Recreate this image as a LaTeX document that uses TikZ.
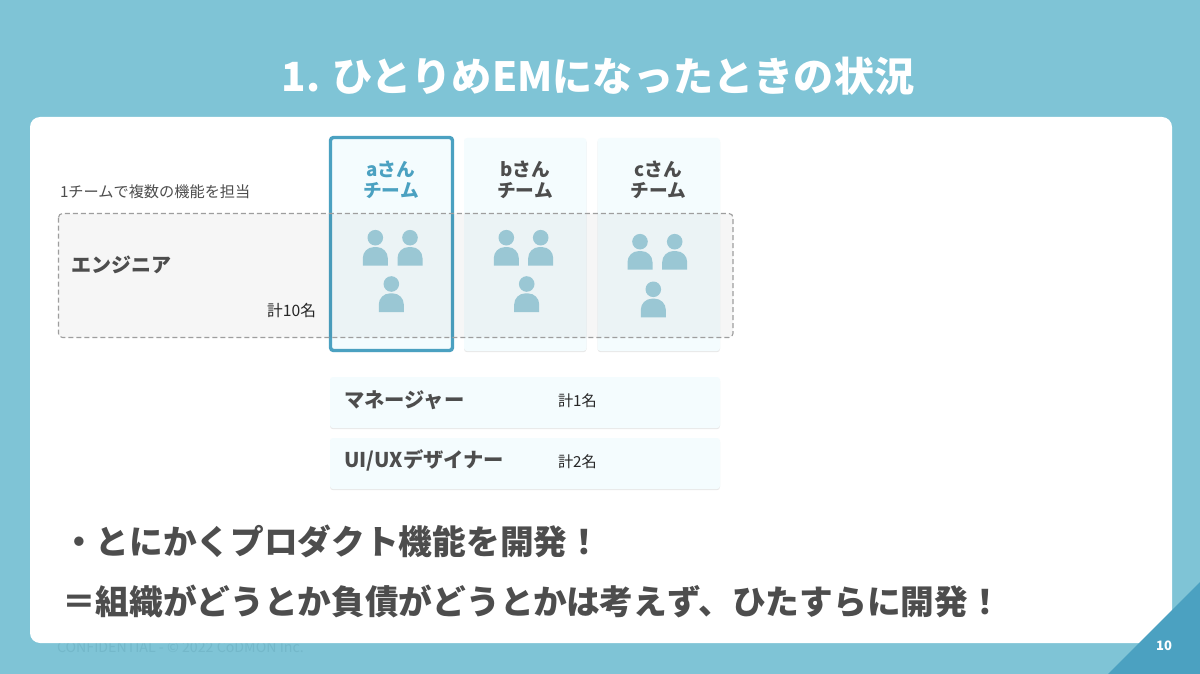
\documentclass[tikz,border=0pt]{standalone}
\usepackage{fontspec}
\setmainfont{Noto Sans CJK JP}
\usetikzlibrary{shadows}
\definecolor{bgblue}{HTML}{7FC4D6}
\definecolor{deepblue}{HTML}{4BA1C1}
\definecolor{cardfill}{HTML}{F4FCFE}
\definecolor{inkgray}{HTML}{4D4D4D}
\definecolor{persona}{HTML}{9AC7D4}
\definecolor{footgray}{HTML}{74B8CA}
\newcommand{\fs}[1]{\fontsize{#1}{#1}\selectfont}
\tikzset{
  card/.style={fill=cardfill,rounded corners=3pt,drop shadow={shadow xshift=0pt,shadow yshift=-1.2pt,opacity=.09,fill=black}},
  lbl/.style={inner sep=0pt,outer sep=0pt,text=inkgray},
  cardlabel/.style={lbl,align=center,font=\fs{18.7}\bfseries},
  rowlabel/.style={lbl,anchor=west,font=\fs{20.3}\bfseries},
  counttext/.style={lbl,anchor=west,font=\fs{15.2},text=black!85},
  bigline/.style={lbl,anchor=west,font=\fs{33.7}\bfseries},
  personicon/.pic={
    \fill[persona] (0,0) circle (7.8pt);
    \fill[persona] (-12.5,28) {[rounded corners=11pt] -- (-12.5,9.4) -- (12.5,9.4)} -- (12.5,28) -- cycle;
  }
}
\begin{document}
\begin{tikzpicture}[x=1pt,y=-1pt]
\useasboundingbox (0,0) rectangle (1200,674);
\fill[bgblue] (0,0) rectangle (1200,674);
\node[lbl,anchor=west,text=footgray,font=\fs{14.2}] (footer) at (57,647.5) {CONFIDENTIAL - © 2022 CoDMON Inc.};
\fill[white,rounded corners=10pt] (30,117) rectangle (1172,643);
\fill[deepblue] (1200,582) -- (1200,674) -- (1108,674) -- cycle;
\node[lbl,text=white,font=\fs{13}\bfseries] (pageno) at (1164,646) {10};
\node[lbl,text=white,font=\fs{40.2}\bfseries] (title) at (598,76) {1. ひとりめEMになったときの状況};
% cards
\path[card] (330,137) rectangle (453,351);
\path[card] (464,138) rectangle (586.5,351);
\path[card] (597.5,138) rectangle (720,351);
\node[cardlabel,text=deepblue] (ateam) at (391,180) {aさん\\[2.5pt]チーム};
\node[cardlabel] (bteam) at (525,180) {bさん\\[2.5pt]チーム};
\node[cardlabel] (cteam) at (658.5,180) {cさん\\[2.5pt]チーム};
% selection border
\draw[deepblue,line width=3.4pt,rounded corners=3pt] (330.5,137.5) rectangle (452.5,350.5);
% engineers band
\fill[black,fill opacity=.035,rounded corners=4pt] (58.5,213.5) rectangle (733,337.5);
\draw[black!38,line width=1.1pt,dash pattern=on 5pt off 3pt,rounded corners=4pt] (58.5,213.5) rectangle (733,337.5);
\node[lbl,anchor=west,font=\fs{15.2}] (note) at (60,191.5) {1チームで複数の機能を担当};
\node[lbl,anchor=west,font=\fs{20}\bfseries] (eng) at (71,264.5) {エンジニア};
\node[lbl,anchor=east,text=black!85,font=\fs{15.7}] (engcount) at (316,310.5) {計10名};
% people
\pic at (375.3,237.7) {personicon};
\pic at (410,237.7) {personicon};
\pic at (391.3,284) {personicon};
\pic at (506.3,237.7) {personicon};
\pic at (540.7,237.7) {personicon};
\pic at (526.7,284) {personicon};
\pic at (640,241.7) {personicon};
\pic at (674.7,241.7) {personicon};
\pic at (653.3,289.3) {personicon};
% rows
\path[card] (330,377) rectangle (720,428);
\path[card] (330,438) rectangle (720,489);
\node[rowlabel] (mgr) at (344,400.5) {マネージャー};
\node[counttext] (mgrcount) at (558,400.5) {計1名};
\node[rowlabel] (uiux) at (344,460.5) {UI/UXデザイナー};
\node[counttext] (uicount) at (558,461.5) {計2名};
% text
\node[bigline] (line1) at (62,541) {・とにかくプロダクト機能を開発！};
\node[bigline] (line2) at (62,601) {＝組織がどうとか負債がどうとかは考えず、ひたすらに開発！};
\end{tikzpicture}
\end{document}
